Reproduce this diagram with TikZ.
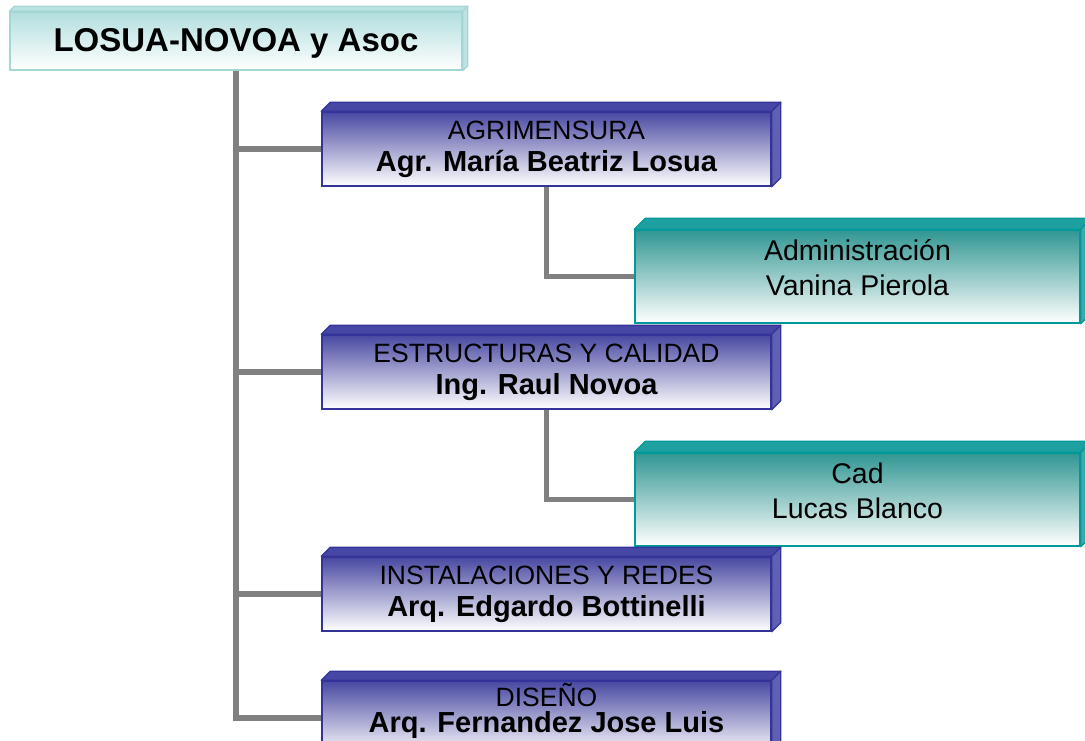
\documentclass[tikz,border=0pt]{standalone}
\usepackage{fontspec}
\setmainfont{Liberation Sans}
\usetikzlibrary{calc}
\pgfdeclarelayer{background}
\pgfsetlayers{background,main}
\definecolor{bluetop}{RGB}{72,72,162}
\definecolor{bluebd}{RGB}{51,51,153}
\definecolor{bluetopface}{RGB}{70,70,165}
\definecolor{bluesideface}{RGB}{95,95,180}
\definecolor{tealtop}{RGB}{48,150,146}
\definecolor{tealbd}{RGB}{0,153,153}
\definecolor{tealtopface}{RGB}{30,160,160}
\definecolor{tealsideface}{RGB}{60,170,170}
\definecolor{titletop}{RGB}{178,222,222}
\definecolor{titlebd}{RGB}{165,214,214}
\definecolor{titletopface}{RGB}{185,226,226}
\definecolor{titlesideface}{RGB}{190,225,225}
\definecolor{conngray}{RGB}{128,128,128}
\newcommand\boxfaces[5]{%
  \filldraw[fill=#3, draw=#5, line width=1.2pt, line join=round]
    (#1.north west) -- ++(#2,-#2) -- ($(#1.north east)+(#2,-#2)$) -- (#1.north east) -- cycle;
  \filldraw[fill=#4, draw=#5, line width=1.2pt, line join=round]
    (#1.north east) -- ++(#2,-#2) -- ($(#1.south east)+(#2,-#2)$) -- (#1.south east) -- cycle;
}
\tikzset{
  titlebox/.style={draw=titlebd, line width=1.5pt, top color=titletop, bottom color=white,
    minimum width=452pt, minimum height=58pt, inner sep=0pt},
  bluebox/.style={draw=bluebd, line width=1.5pt, top color=bluetop, bottom color=white,
    minimum width=449pt, minimum height=74pt, inner sep=0pt},
  tealbox/.style={draw=tealbd, line width=1.5pt, top color=tealtop, bottom color=white,
    minimum width=445pt, minimum height=93pt, inner sep=0pt},
  conn/.style={draw=conngray, line width=5.5pt, line join=miter},
  titletxt/.style={anchor=base, inner sep=0pt, font=\fontsize{33}{36}\selectfont\bfseries},
  rtxt/.style={anchor=base, inner sep=0pt, font=\fontsize{26.5}{30}\selectfont},
  btxt/.style={anchor=base, inner sep=0pt, font=\fontsize{29}{32}\selectfont\bfseries},
  ttxt/.style={anchor=base, inner sep=0pt, font=\fontsize{28.5}{32}\selectfont},
}
\begin{document}
\begin{tikzpicture}[x=1pt,y=-1pt]
\useasboundingbox (0,0) rectangle (1085,740);
\clip (0,0) rectangle (1085,740);

% front faces (nodes)
\node[titlebox] (title) at (236,41) {};
\node[bluebox] (agr) at (546.5,149) {};
\node[bluebox] (est) at (546.5,372) {};
\node[bluebox] (ins) at (546.5,594) {};
\node[bluebox] (dis) at (546.5,718) {};
\node[tealbox] (adm) at (857.5,276.5) {};
\node[tealbox] (cad) at (857.5,499.5) {};

% connectors (behind boxes)
\begin{pgfonlayer}{background}
\draw[conn] (title.south) |- (dis.west);
\draw[conn] (title.south |- agr.west) -- (agr.west);
\draw[conn] (title.south |- est.west) -- (est.west);
\draw[conn] (title.south |- ins.west) -- (ins.west);
\draw[conn] (agr.south) |- (adm.west);
\draw[conn] (est.south) |- (cad.west);
\end{pgfonlayer}

% 3D faces
\boxfaces{title}{5}{titletopface}{titlesideface}{titlebd}
\boxfaces{agr}{9}{bluetopface}{bluesideface}{bluebd}
\boxfaces{est}{9}{bluetopface}{bluesideface}{bluebd}
\boxfaces{ins}{9}{bluetopface}{bluesideface}{bluebd}
\boxfaces{dis}{9}{bluetopface}{bluesideface}{bluebd}
\boxfaces{adm}{11}{tealtopface}{tealsideface}{tealbd}
\boxfaces{cad}{11}{tealtopface}{tealsideface}{tealbd}

% texts
\node[titletxt] (titlet) at ($(title.north)+(0,40)$) {LOSUA-NOVOA y Asoc};
\node[rtxt] (agr1) at ($(agr.north)+(0,28)$) {AGRIMENSURA};
\node[btxt] (agr2) at ($(agr.north)+(0,60)$) {Agr. María Beatriz Losua};
\node[rtxt] (est1) at ($(est.north)+(0,28)$) {ESTRUCTURAS Y CALIDAD};
\node[btxt] (est2) at ($(est.north)+(0,60)$) {Ing. Raul Novoa};
\node[rtxt] (ins1) at ($(ins.north)+(0,28)$) {INSTALACIONES Y REDES};
\node[btxt] (ins2) at ($(ins.north)+(0,60)$) {Arq. Edgardo Bottinelli};
\node[rtxt] (dis1) at ($(dis.north)+(0,26)$) {DISEÑO};
\node[btxt] (dis2) at ($(dis.north)+(0,52)$) {Arq. Fernandez Jose Luis};
\node[ttxt] (adm1) at ($(adm.north)+(0,31)$) {Administración};
\node[ttxt] (adm2) at ($(adm.north)+(0,66)$) {Vanina Pierola};
\node[ttxt] (cad1) at ($(cad.north)+(0,31)$) {Cad};
\node[ttxt] (cad2) at ($(cad.north)+(0,66)$) {Lucas Blanco};
\end{tikzpicture}
\end{document}
